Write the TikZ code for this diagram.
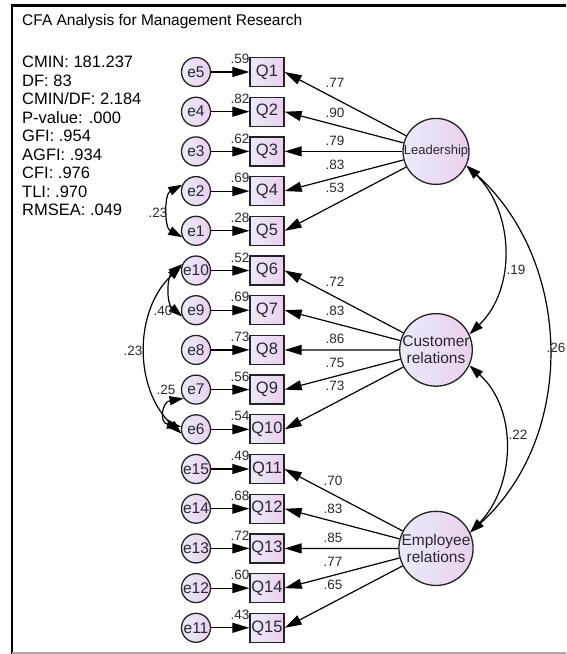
\documentclass[tikz,border=0pt]{standalone}
\usepackage{fontspec}
\setmainfont{Liberation Sans}
\usetikzlibrary{arrows.meta}
\definecolor{lavA}{RGB}{236,234,248}
\definecolor{lavB}{RGB}{234,208,238}
\definecolor{ink}{RGB}{35,35,35}
\definecolor{txt}{RGB}{40,40,50}
\begin{document}
\begin{tikzpicture}[x=1pt,y=1pt,
  errc/.style={circle, draw=ink, line width=1.3pt, left color=lavA, right color=lavB, minimum size=29pt, inner sep=0pt, font=\fontsize{15.5}{15.5}\selectfont, text=txt},
  obs/.style={rectangle, draw=ink, line width=1.3pt, left color=lavA, right color=lavB, minimum width=34pt, minimum height=29pt, inner sep=0pt, font=\fontsize{16.5}{16.5}\selectfont, text=txt},
  lat/.style={circle, draw=ink, line width=1.3pt, left color=lavA, right color=lavB, minimum size=66pt, inner sep=0pt, align=center, font=\fontsize{15.5}{16.5}\selectfont, text=txt},
  arr/.style={draw=black, line width=1.2pt, -{Triangle[length=17pt,width=10pt]}},
  cov/.style={draw=black, line width=1.2pt, {Triangle[length=14pt,width=9pt]}-{Triangle[length=14pt,width=9pt]}},
  num/.style={font=\fontsize{13.5}{13.5}\selectfont, text=txt, inner sep=0pt},
  stat/.style={font=\fontsize{16.5}{16.5}\selectfont, anchor=west, inner sep=0pt, text=black}
]
\useasboundingbox (0,0) rectangle (566,-654);
% frame
\draw[line width=2.6pt, black] (12,-654) -- (12,-5.5) -- (566,-5.5);
\draw[line width=1.5pt, black!35] (12,-653) -- (566,-653);
% title and stats
\node[stat, font=\fontsize{15.5}{15.5}\selectfont] (title) at (22,-21) {CFA Analysis for Management Research};
\foreach \k/\s in {0/{CMIN: 181.237}, 1/{DF: 83}, 2/{CMIN/DF: 2.184}, 3/{P-value: .000}, 4/{GFI: .954}, 5/{AGFI: .934}, 6/{CFI: .976}, 7/{TLI: .970}, 8/{RMSEA: .049}}
  \node[stat] (s\k) at (22,{-62-18.5*\k}) {\s};
% latent variables
\node[lat, font=\fontsize{13}{14}\selectfont] (L) at (436,-151.4) {Leadership};
\node[lat] (C) at (436,-349.9) {Customer\\relations};
\node[lat] (E) at (436,-548.4) {Employee\\relations};
% observed + errors
\foreach \i/\e/\r in {1/5/.59, 2/4/.82, 3/3/.62, 4/2/.69, 5/1/.28, 6/10/.52, 7/9/.69, 8/8/.73, 9/7/.56, 10/6/.54, 11/15/.49, 12/14/.68, 13/13/.72, 14/12/.60, 15/11/.43}{
  \pgfmathsetmacro\yy{-72-39.7*(\i-1)}
  \node[obs] (Q\i) at (267,\yy) {Q\i};
  \node[errc] (e\e) at (196,\yy) {e\e};
  \node[num] (r\i) at (240,\yy+13) {\r};
  \draw[arr] (e\e) -- (Q\i);
}
% loadings
\foreach \i/\v/\dy in {1/.77/-69, 2/.90/-39, 3/.79/-11, 4/.83/13, 5/.53/36}{
  \draw[arr] (L) -- (Q\i.east);
  \node[num] (lL\i) at (335,-151.4-\dy) {\v};
}
\foreach \i/\v/\dy in {6/.72/-68, 7/.83/-39, 8/.86/-11, 9/.75/13, 10/.73/36}{
  \draw[arr] (C) -- (Q\i.east);
  \node[num] (lC\i) at (335,-349.9-\dy) {\v};
}
\foreach \i/\v/\dy in {11/.70/-68, 12/.83/-40, 13/.85/-11, 14/.77/13, 15/.65/36}{
  \draw[arr] (E) -- (Q\i.east);
  \node[num] (lE\i) at (333,-548.4-\dy) {\v};
}
% latent covariances
\draw[cov] (L.-25) to[out=-44,in=44] (C.25);
\draw[cov] (L.-25) to[out=-42,in=42] (E.25);
\draw[cov] (C.-25) to[out=-42,in=46] (E.25);
\node[num] (c19) at (516,-270) {.19};
\node[num] (c26) at (556,-348) {.26};
\node[num] (c22) at (518,-435) {.22};
% error covariances
\draw[cov] (e2.155) to[out=208,in=152] (e1.205);
\draw[cov] (e10.155) to[out=220,in=140] (e9.205);
\draw[cov] (e7.215) to[out=190,in=170,looseness=2] (e6.170);
\draw[cov] (e10.163) to[out=223,in=137] (e6.197);
\node[num] (c23a) at (158,-213) {.23};
\node[num] (c40) at (163,-311) {.40};
\node[num] (c25) at (166,-390) {.25};
\node[num] (c23b) at (133,-351) {.23};
\end{tikzpicture}
\end{document}
